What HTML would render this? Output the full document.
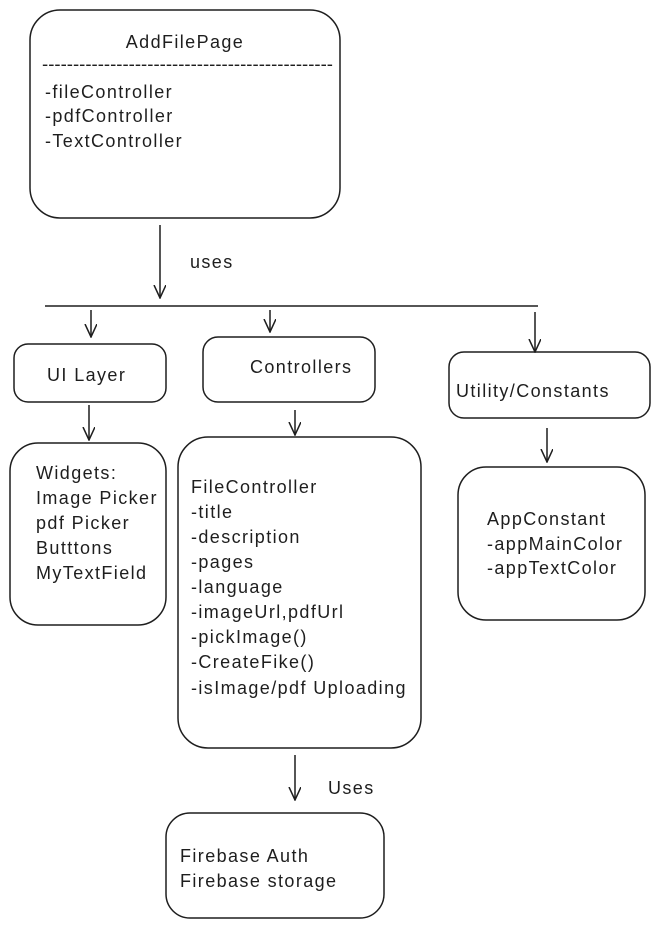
<!DOCTYPE html>
<html><head><meta charset="utf-8"><style>
html,body{margin:0;padding:0;background:#fff;}
svg{display:block;}
text{font-family:"Liberation Sans",sans-serif;font-size:18px;letter-spacing:1.4px;fill:#1e1e1e;}
</style></head><body>
<svg width="661" height="928" viewBox="0 0 661 928" xmlns="http://www.w3.org/2000/svg">
<defs><marker id="a" markerWidth="14" markerHeight="14" refX="13" refY="6" orient="auto" markerUnits="userSpaceOnUse"><path d="M0,0 L13,6 L0,12" fill="none" stroke="#1e1e1e" stroke-width="1.5"/></marker></defs>
<g fill="none" stroke="#1e1e1e" stroke-width="1.5">
<rect x="30" y="10" width="310" height="208" rx="30"/>
<rect x="14" y="344" width="152" height="58" rx="14"/>
<rect x="203" y="337" width="172" height="65" rx="15"/>
<rect x="449" y="352" width="201" height="66" rx="15"/>
<rect x="10" y="443" width="156" height="182" rx="28"/>
<rect x="178" y="437" width="243" height="311" rx="30"/>
<rect x="458" y="467" width="187" height="153" rx="28"/>
<rect x="166" y="813" width="218" height="105" rx="24"/>
<line x1="45" y1="306" x2="538" y2="306"/>
<line x1="160" y1="225" x2="160" y2="298" marker-end="url(#a)"/>
<line x1="91" y1="310" x2="91" y2="337" marker-end="url(#a)"/>
<line x1="270" y1="310" x2="270" y2="332" marker-end="url(#a)"/>
<line x1="535" y1="312" x2="535" y2="352" marker-end="url(#a)"/>
<line x1="89" y1="405" x2="89" y2="440" marker-end="url(#a)"/>
<line x1="295" y1="410" x2="295" y2="435" marker-end="url(#a)"/>
<line x1="547" y1="428" x2="547" y2="462" marker-end="url(#a)"/>
<line x1="295" y1="755" x2="295" y2="800" marker-end="url(#a)"/>
</g>
<text x="185" y="48" text-anchor="middle">AddFilePage</text>
<text x="42" y="70" textLength="291" lengthAdjust="spacingAndGlyphs" style="letter-spacing:0">-----------------------------------------------</text>
<text x="45" y="98">-fileController</text>
<text x="45" y="122">-pdfController</text>
<text x="45" y="147">-TextController</text>
<text x="190" y="268">uses</text>
<text x="47" y="381">UI Layer</text>
<text x="250" y="373">Controllers</text>
<text x="456" y="397">Utility/Constants</text>
<text x="36" y="479">Widgets:</text>
<text x="36" y="504">Image Picker</text>
<text x="36" y="529">pdf Picker</text>
<text x="36" y="554">Butttons</text>
<text x="36" y="579">MyTextField</text>
<text x="191" y="493">FileController</text>
<text x="191" y="518">-title</text>
<text x="191" y="543">-description</text>
<text x="191" y="568">-pages</text>
<text x="191" y="593">-language</text>
<text x="191" y="618">-imageUrl,pdfUrl</text>
<text x="191" y="643">-pickImage()</text>
<text x="191" y="668">-CreateFike()</text>
<text x="191" y="694">-isImage/pdf Uploading</text>
<text x="487" y="525">AppConstant</text>
<text x="487" y="550">-appMainColor</text>
<text x="487" y="574">-appTextColor</text>
<text x="328" y="794">Uses</text>
<text x="180" y="862">Firebase Auth</text>
<text x="180" y="887">Firebase storage</text>
</svg>
</body></html>
